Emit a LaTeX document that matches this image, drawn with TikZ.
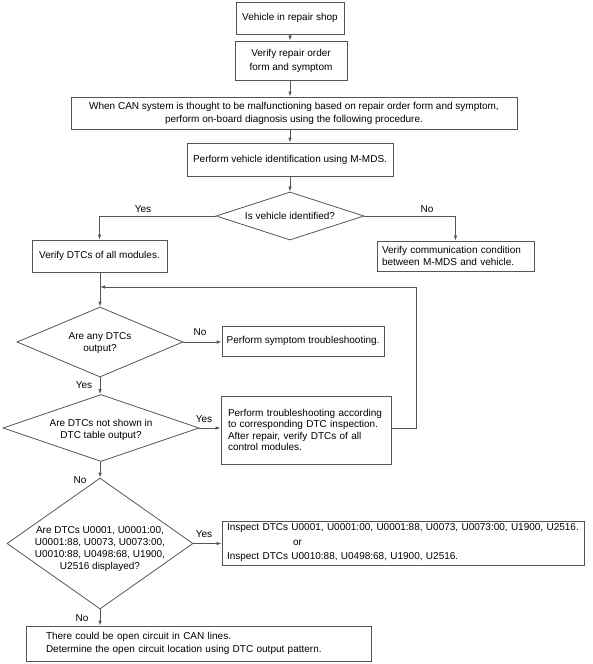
\documentclass[tikz,border=0pt]{standalone}
\usepackage{fontspec}
\setmainfont{Liberation Sans}
\usetikzlibrary{shapes.geometric,arrows.meta}
\definecolor{linec}{HTML}{555555}
\begin{document}
\begin{tikzpicture}[x=1pt,y=-1pt,
  box/.style={draw=linec, line width=0.8pt, inner ysep=0pt, inner xsep=4pt, font=\fontsize{10}{12}\selectfont, align=center},
  lbox/.style={draw=linec, line width=0.8pt, inner ysep=0pt, font=\fontsize{10}{12}\selectfont, align=left},
  dia/.style={draw=linec, shape=diamond, inner sep=0pt, line width=0.8pt},
  txt/.style={font=\fontsize{10}{12}\selectfont, align=center, inner sep=0pt},
  lab/.style={font=\fontsize{10}{12}\selectfont, inner sep=0pt},
  arr/.style={draw=linec, line width=0.8pt, -{Latex[length=5pt,width=3.5pt]}},
  ln/.style={draw=linec, line width=0.8pt}
]
\useasboundingbox (0,0) rectangle (593,664);

\node[box, minimum width=108pt, minimum height=32pt] (b1) at (290,18) {Vehicle in repair shop};
\node[box, minimum width=112pt, minimum height=39pt, font=\fontsize{10}{14}\selectfont] (b2) at (291,60.5) {Verify repair order\\form and symptom};
\node[box, minimum width=446pt, minimum height=32pt, font=\fontsize{10}{13}\selectfont] (b3) at (294,113) {When CAN system is thought to be malfunctioning based on repair order form and symptom,\\perform on-board diagnosis using the following procedure.};
\node[box, minimum width=206pt, minimum height=33pt] (b4) at (290,159.5) {Perform vehicle identification using M-MDS.};
\node[dia, minimum width=148pt, minimum height=48pt] (d1) at (290,216) {};
\node[txt] (t1) at (290,216) {Is vehicle identified?};
\node[box, minimum width=135pt, minimum height=32pt] (b5) at (99.5,256) {Verify DTCs of all modules.};
\node[lbox, text width=147pt, inner xsep=5pt, minimum height=30pt] (b6) at (455.5,256) {Verify communication condition\\between M-MDS and vehicle.};
\node[dia, minimum width=166pt, minimum height=70pt] (d2) at (100,342) {};
\node[txt, font=\fontsize{10}{11.5}\selectfont] (t2) at (100,343) {Are any DTCs\\output?};
\node[box, minimum width=162pt, minimum height=30pt] (bs) at (303,341) {Perform symptom troubleshooting.};
\node[dia, minimum width=196pt, minimum height=67pt] (d3) at (101,428) {};
\node[txt, font=\fontsize{10}{12}\selectfont] (t3) at (101,430) {Are DTCs not shown in\\DTC table output?};
\node[lbox, text width=156pt, inner xsep=7pt, minimum height=68pt, font=\fontsize{10}{11.5}\selectfont] (b7) at (306,430) {Perform troubleshooting according\\to corresponding DTC inspection.\\After repair, verify DTCs of all\\control modules.};
\node[dia, minimum width=186pt, minimum height=131pt] (d4) at (100,543.5) {};
\node[txt, font=\fontsize{10}{11.7}\selectfont] (t4) at (100,549) {Are DTCs U0001, U0001:00,\\U0001:88, U0073, U0073:00,\\U0010:88, U0498:68, U1900,\\U2516 displayed?};
\node[lbox, text width=352pt, inner xsep=5pt, minimum height=44pt, font=\fontsize{10}{14.5}\selectfont] (bi) at (403,543) {Inspect DTCs U0001, U0001:00, U0001:88, U0073, U0073:00, U1900, U2516.\\\hspace*{66pt}or\\Inspect DTCs U0010:88, U0498:68, U1900, U2516.};
\node[lbox, text width=305pt, inner xsep=20pt, minimum height=35pt, font=\fontsize{10}{12.5}\selectfont] (bf) at (198.5,643.5) {There could be open circuit in CAN lines.\\Determine the open circuit location using DTC output pattern.};

\coordinate (lp) at (100,287);

\draw[arr] (b1.south) -- (b1.south |- b2.north);
\draw[arr] (b2.south -| b1.south) -- (b1.south |- b3.north);
\draw[arr] (b3.south -| b1.south) -- (b1.south |- b4.north);
\draw[arr] (b4.south) -- (d1.north);
\draw[arr] (d1.west) -| (b5.north);
\draw[arr] (d1.east) -| (b6.north);
\draw[arr] (b5.south -| d2.north) -- (d2.north);
\draw[arr] (b7.east |- d3.east) -- ++(25,0) |- (lp);
\draw[arr] (d2.east) -- (d2.east -| bs.west);
\draw[arr] (d2.south) -- (d2.south |- d3.north);
\draw[arr] (d3.east) -- (d3.east -| b7.west);
\draw[arr] (d3.south -| d2.south) -- (d2.south |- d4.north);
\draw[arr] (d4.east) -- (d4.east -| bi.west);
\draw[arr] (d4.south) -- (d4.south |- bf.north);

\node[lab] (y1) at (143,209) {Yes};
\node[lab] (n1) at (427,209) {No};
\node[lab] (n2) at (200,332) {No};
\node[lab] (y2) at (84,385) {Yes};
\node[lab] (y3) at (204,419) {Yes};
\node[lab] (n3) at (80,480) {No};
\node[lab] (y4) at (204,534) {Yes};
\node[lab] (n4) at (82,618) {No};
\end{tikzpicture}
\end{document}
